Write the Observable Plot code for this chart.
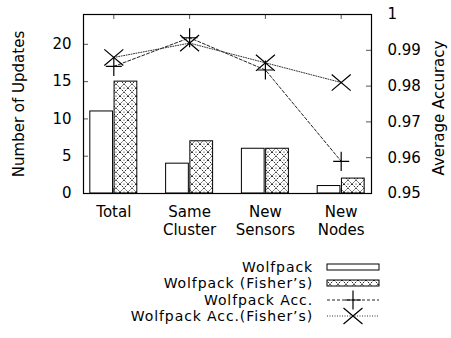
<!DOCTYPE html>
<html>
<head>
<meta charset="utf-8">
<script src="https://cdn.jsdelivr.net/npm/d3@7"></script>
<script src="https://cdn.jsdelivr.net/npm/@observablehq/plot@0.6"></script>
<style>
  body { margin: 0; background: #fff; }
  #chart { width: 451px; }
  #legend { position: relative; width: 451px; height: 88px; font-family: "DejaVu Sans", sans-serif; font-size: 14px; letter-spacing: 0.9px; color: #000; }
  #legend .row { position: absolute; left: 0; width: 451px; height: 16px; }
  #legend .lab { position: absolute; right: 138px; top: 0; line-height: 16px; white-space: nowrap; }
  #legend svg { position: absolute; left: 326px; top: -3px; }
</style>
</head>
<body>
<!-- shared fill pattern for the Fisher's bars -->
<svg width="0" height="0" style="position:absolute">
  <defs>
    <pattern id="xhatch" patternUnits="userSpaceOnUse" width="8" height="8">
      <rect width="8" height="8" fill="#fff"/>
      <path d="M0,0L8,8M8,0L0,8" stroke="#111" stroke-width="0.9" stroke-dasharray="1.6,1"/>
      <circle cx="4" cy="0" r="0.6" fill="#000"/>
      <circle cx="4" cy="8" r="0.6" fill="#000"/>
    </pattern>
  </defs>
</svg>
<div id="chart"></div>
<div id="legend"></div>
<script>
// Categories and series
const categories = ["Total", "Same\nCluster", "New\nSensors", "New\nNodes"];
const wolfpack = [11, 4, 6, 1];
const wolfpackFisher = [15, 7, 6, 2];
const accWolfpack = [0.9855, 0.9935, 0.9845, 0.959];
const accWolfpackFisher = [0.988, 0.992, 0.9865, 0.981];

// Axis ticks
const leftTicks = [0, 5, 10, 15, 20];
const rightTicks = [0.95, 0.96, 0.97, 0.98, 0.99, 1];
const seriesNames = ["Wolfpack", "Wolfpack (Fisher\u2019s)", "Wolfpack Acc.", "Wolfpack Acc.(Fisher\u2019s)"];

// Accuracy is drawn on the count scale through this mapping (secondary axis)
const acc = d3.scaleLinear([0.95, 1], [0, 24]);
const idx = d3.range(categories.length);

// Stroke-only marker shapes; size comes in as pi * r^2
const plusSym = {draw(ctx, size) {
  const r = Math.sqrt(size / Math.PI);
  ctx.moveTo(-r, 0); ctx.lineTo(r, 0);
  ctx.moveTo(0, -r * 1.2); ctx.lineTo(0, r * 1.2);
}};
const timesSym = {draw(ctx, size) {
  const r = Math.sqrt(size / Math.PI);
  const h = r * 0.85;
  ctx.moveTo(-r, -h); ctx.lineTo(r, h);
  ctx.moveTo(-r, h); ctx.lineTo(r, -h);
}};

const W = 451, H = 250, mL = 83, mR = 80, mT = 14, mB = 57;
const innerW = W - mL - mR, innerH = H - mT - mB;
const tickLen = 5;

const chart = Plot.plot({
  width: W, height: H,
  marginLeft: mL, marginRight: mR, marginTop: mT, marginBottom: mB,
  x: {type: "linear", domain: [-0.4, 3.4]},
  y: {domain: [0, 24]},
  style: {fontFamily: "DejaVu Sans, sans-serif", fontSize: "15px", color: "#000", background: "#fff"},
  marks: [
    // inward ticks on the frame
    Plot.ruleX(idx, {x: d => d, insetBottom: innerH - tickLen, stroke: "#555"}),
    Plot.ruleX(idx, {x: d => d, insetTop: innerH - tickLen, stroke: "#555"}),
    Plot.ruleY(leftTicks, {y: d => d, insetRight: innerW - tickLen, stroke: "#555"}),
    Plot.ruleY(rightTicks, {y: d => acc(d), insetLeft: innerW - tickLen, stroke: "#555"}),
    // bars
    Plot.rectY(idx, {x1: i => i - 0.31, x2: i => i - 0.01, y1: 0, y2: i => wolfpack[i], fill: "#fff", stroke: "#000", strokeWidth: 1}),
    Plot.rectY(idx, {x1: i => i + 0.01, x2: i => i + 0.31, y1: 0, y2: i => wolfpackFisher[i], fill: "url(#xhatch)", stroke: "#000", strokeWidth: 1}),
    // accuracy lines
    Plot.line(idx, {x: i => i, y: i => acc(accWolfpack[i]), stroke: "#222", strokeWidth: 1, strokeDasharray: "3,2"}),
    Plot.line(idx, {x: i => i, y: i => acc(accWolfpackFisher[i]), stroke: "#333", strokeWidth: 1, strokeDasharray: "1,1.5"}),
    Plot.dot(idx, {x: i => i, y: i => acc(accWolfpack[i]), symbol: plusSym, r: 8, stroke: "#000", strokeWidth: 1.2}),
    Plot.dot(idx, {x: i => i, y: i => acc(accWolfpackFisher[i]), symbol: timesSym, r: 9.5, stroke: "#000", strokeWidth: 1.2}),
    Plot.frame({stroke: "#000", strokeWidth: 1.2}),
    // axes
    Plot.axisY({anchor: "left", ticks: leftTicks, tickSize: 0, tickPadding: 12, label: null}),
    Plot.axisY({anchor: "right", ticks: rightTicks.map(acc), tickFormat: d => d3.format(".2~f")(acc.invert(d)), tickSize: 0, tickPadding: 16, label: null}),
    Plot.axisX({anchor: "bottom", ticks: idx, tickFormat: i => categories[i], tickSize: 0, tickPadding: 11, lineHeight: 1.2, label: null}),
    // axis titles
    Plot.text(["Number of Updates"], {frameAnchor: "left", textAnchor: "middle", rotate: -90, dx: -64, fontSize: 15}),
    Plot.text(["Average Accuracy"], {frameAnchor: "right", textAnchor: "middle", rotate: -90, dx: 68, dy: 4, fontSize: 15})
  ]
});
document.getElementById("chart").appendChild(chart);

// Legend below the chart
const legendSymbols = [
  `<rect x="1" y="8" width="52" height="6" fill="#fff" stroke="#000" stroke-width="1"/>`,
  `<rect x="1" y="8" width="52" height="6" fill="url(#xhatch)" stroke="#000" stroke-width="1"/>`,
  `<line x1="1" y1="11" x2="53" y2="11" stroke="#222" stroke-dasharray="3,2"/><path d="M19,11H35M27,1.5V20.5" stroke="#000" stroke-width="1.2"/>`,
  `<line x1="1" y1="11" x2="53" y2="11" stroke="#333" stroke-dasharray="1,1.5"/><path d="M17.5,3L36.5,19M17.5,19L36.5,3" stroke="#000" stroke-width="1.2"/>`
];
const legend = document.getElementById("legend");
const rowCenters = [17, 33.4, 49.8, 66.2];
seriesNames.forEach((name, k) => {
  const row = document.createElement("div");
  row.className = "row";
  row.style.top = (rowCenters[k] - 8) + "px";
  row.innerHTML = `<span class="lab">${name}</span><svg width="56" height="22">${legendSymbols[k]}</svg>`;
  legend.appendChild(row);
});
</script>
</body>
</html>
